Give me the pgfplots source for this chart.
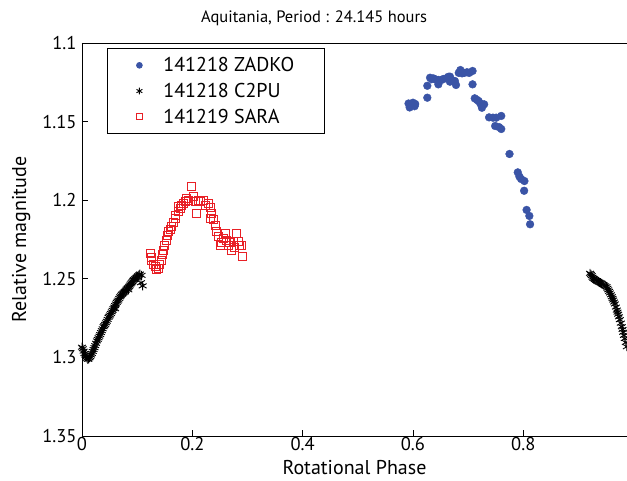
\documentclass[border=0pt]{standalone}
\usepackage{pgfplots}
\pgfplotsset{compat=1.18}
\usepackage{fontspec}
\setmainfont{PT Sans}
\definecolor{zblue}{RGB}{58,84,166}
\definecolor{sred}{RGB}{232,32,38}
\begin{document}
\begin{tikzpicture}
\useasboundingbox (0,0) rectangle (627pt,481pt);
\begin{axis}[
  at={(82pt,45pt)}, anchor=south west,
  scale only axis, width=545pt, height=393pt,
  xmin=0, xmax=0.988, ymin=1.1, ymax=1.35,
  y dir=reverse,
  axis x line=box, axis y line=left,
  every outer x axis line/.append style={-},
  every outer y axis line/.append style={-},
  axis line style={line width=0.7pt, -},
  xtick={0,0.2,0.4,0.6,0.8},
  ytick={1.1,1.15,1.2,1.25,1.3,1.35},
  xtick pos=bottom, ytick pos=left,
  tick align=inside, major tick length=6pt,
  tick style={line width=0.6pt, black},
  /pgf/number format/assume math mode=true,
  yticklabel style={/pgf/number format/fixed, /pgf/number format/precision=2, xshift=-2pt},
  xticklabel style={yshift=2pt},
  ticklabel style={font=\fontsize{18.5}{22}\selectfont},
  title={Aquitania, Period : 24.145 hours},
  title style={at={(0.426,1)}, anchor=center, yshift=19pt, font=\fontsize{16.5}{19}\selectfont},
  xlabel={Rotational Phase},
  ylabel={Relative magnitude},
  xlabel style={font=\fontsize{20}{24}\selectfont, yshift=-3pt},
  ylabel style={font=\fontsize{20}{24}\selectfont, yshift=5pt},
  legend style={at={(0.046,0.987)}, anchor=north west, draw=black, line width=0.7pt,
    font=\fontsize{20}{24}\selectfont, inner xsep=0pt, inner ysep=7pt, row sep=6pt,
    legend cell align=left},
  legend image code/.code={\path[draw=none,fill=none] (0pt,-5pt) rectangle (54pt,5pt); \draw[#1, every mark/.append style={scale=0.75}] plot coordinates {(32pt,0pt)};},
]
\addplot[only marks, mark=*, mark size=3.9pt, color=zblue, mark options={draw=zblue, fill=zblue}] coordinates {
(0.592,1.1385) (0.594,1.1410) (0.596,1.1395) (0.600,1.1380) (0.603,1.1402) (0.604,1.1388)
(0.626,1.1272) (0.626,1.1348) (0.631,1.1221) (0.634,1.1230) (0.637,1.1225) (0.641,1.1232)
(0.646,1.1235) (0.646,1.1263) (0.651,1.1236) (0.655,1.1229) (0.660,1.1225) (0.664,1.1215)
(0.667,1.1214) (0.667,1.1246) (0.671,1.1238) (0.676,1.1242) (0.678,1.1267) (0.683,1.1190)
(0.686,1.1172) (0.689,1.1193) (0.693,1.1190) (0.698,1.1186) (0.702,1.1190) (0.708,1.1178)
(0.708,1.1263) (0.712,1.1352) (0.716,1.1362) (0.719,1.1369) (0.722,1.1385) (0.725,1.1412)
(0.729,1.1390) (0.738,1.1473) (0.745,1.1475) (0.749,1.1528) (0.751,1.1475) (0.756,1.1535)
(0.760,1.1464) (0.760,1.1547) (0.775,1.1706) (0.790,1.1823) (0.793,1.1850) (0.796,1.1865)
(0.802,1.1878) (0.8015,1.1940) (0.806,1.2062) (0.811,1.2100) (0.8123,1.2153)
};
\addlegendentry{141218 ZADKO\rule{28pt}{0pt}}
\addplot[only marks, mark=asterisk, mark size=4.5pt, color=black, mark options={line width=0.9pt}] coordinates {
(0.000,1.2935) (0.0015,1.2945) (0.003,1.2960) (0.0045,1.2975) (0.006,1.2985) (0.0075,1.2998)
(0.009,1.3005) (0.0105,1.3012) (0.012,1.3010) (0.0135,1.3002) (0.015,1.2995) (0.0165,1.2985)
(0.018,1.2975) (0.0195,1.2962) (0.021,1.2950) (0.0225,1.2938) (0.024,1.2925) (0.0255,1.2910)
(0.027,1.2895) (0.0285,1.2885) (0.030,1.2875) (0.0315,1.2865) (0.033,1.2855) (0.0345,1.2842)
(0.036,1.2830) (0.0375,1.2818) (0.039,1.2805) (0.0405,1.2798) (0.042,1.2790) (0.0435,1.2780)
(0.045,1.2770) (0.0465,1.2758) (0.048,1.2745) (0.0495,1.2738) (0.051,1.2730) (0.0525,1.2720)
(0.054,1.2710) (0.0555,1.2700) (0.057,1.2690) (0.0585,1.2680) (0.060,1.2670) (0.060,1.2690)
(0.0615,1.2660) (0.063,1.2650) (0.0645,1.2642) (0.066,1.2635) (0.0675,1.2625) (0.069,1.2615)
(0.0705,1.2608) (0.072,1.2600) (0.0735,1.2595) (0.075,1.2590) (0.0765,1.2585) (0.078,1.2580)
(0.0795,1.2572) (0.081,1.2565) (0.0825,1.2560) (0.084,1.2555) (0.084,1.2570) (0.0855,1.2548)
(0.087,1.2540) (0.0885,1.2532) (0.090,1.2525) (0.0915,1.2518) (0.093,1.2510) (0.0945,1.2505)
(0.096,1.2500) (0.0975,1.2495) (0.099,1.2490) (0.1005,1.2485) (0.102,1.2480) (0.1035,1.2475)
(0.105,1.2470) (0.108,1.2478) (0.107,1.2525) (0.110,1.2545)
(0.921,1.2465) (0.9225,1.2472) (0.924,1.2480) (0.9255,1.2490) (0.927,1.2497) (0.9285,1.2500)
(0.930,1.2505) (0.932,1.2510) (0.934,1.2515) (0.936,1.2518) (0.938,1.2522) (0.940,1.2525)
(0.942,1.2529) (0.944,1.2535) (0.946,1.2540) (0.9485,1.2545) (0.951,1.2550) (0.9525,1.2560)
(0.954,1.2570) (0.9555,1.2580) (0.957,1.2590) (0.9588,1.2602) (0.9605,1.2614) (0.9618,1.2625)
(0.963,1.2635) (0.9645,1.2648) (0.966,1.2660) (0.9678,1.2680) (0.9695,1.2699) (0.9708,1.2712)
(0.972,1.2725) (0.9735,1.2742) (0.975,1.2760) (0.9768,1.2782) (0.9786,1.2805) (0.980,1.2822)
(0.981,1.2840) (0.9825,1.2860) (0.984,1.2880) (0.9858,1.2905) (0.9877,1.2932) (0.991,1.2970)
};
\addlegendentry{141218 C2PU}
\addplot[only marks, mark=square, mark size=4pt, color=sred, mark options={line width=0.7pt}] coordinates {
(0.1233,1.2338) (0.1250,1.2365) (0.1264,1.2380) (0.1290,1.2410) (0.1324,1.2423) (0.1340,1.2440)
(0.1384,1.2433) (0.1400,1.2410) (0.1445,1.2380) (0.1460,1.2345) (0.1475,1.2317) (0.1500,1.2290)
(0.1535,1.2253) (0.1550,1.2225) (0.1565,1.2200) (0.1600,1.2185) (0.1626,1.2168) (0.1650,1.2140)
(0.1686,1.2115) (0.1700,1.2095) (0.1747,1.2073) (0.1747,1.2041) (0.1780,1.2050) (0.1800,1.2030)
(0.1837,1.2020) (0.1870,1.2005) (0.1898,1.1988) (0.1930,1.2000) (0.1989,1.1914) (0.2019,1.1978)
(0.2050,1.2010) (0.2080,1.2083) (0.2109,1.1999) (0.2150,1.2010) (0.2200,1.1999) (0.2240,1.2030)
(0.2290,1.2020) (0.2320,1.2045) (0.2352,1.2083) (0.2321,1.2115) (0.2380,1.2120) (0.2412,1.2158)
(0.2442,1.2200) (0.2470,1.2230) (0.2502,1.2285) (0.2530,1.2265) (0.2560,1.2240) (0.2593,1.2211)
(0.2623,1.2253) (0.2650,1.2290) (0.2680,1.2270) (0.2714,1.2317) (0.2744,1.2264) (0.2770,1.2300)
(0.2805,1.2211) (0.2835,1.2264) (0.2860,1.2290) (0.2896,1.2285) (0.2907,1.2355)
};
\addlegendentry{141219 SARA}
\end{axis}
\end{tikzpicture}
\end{document}
